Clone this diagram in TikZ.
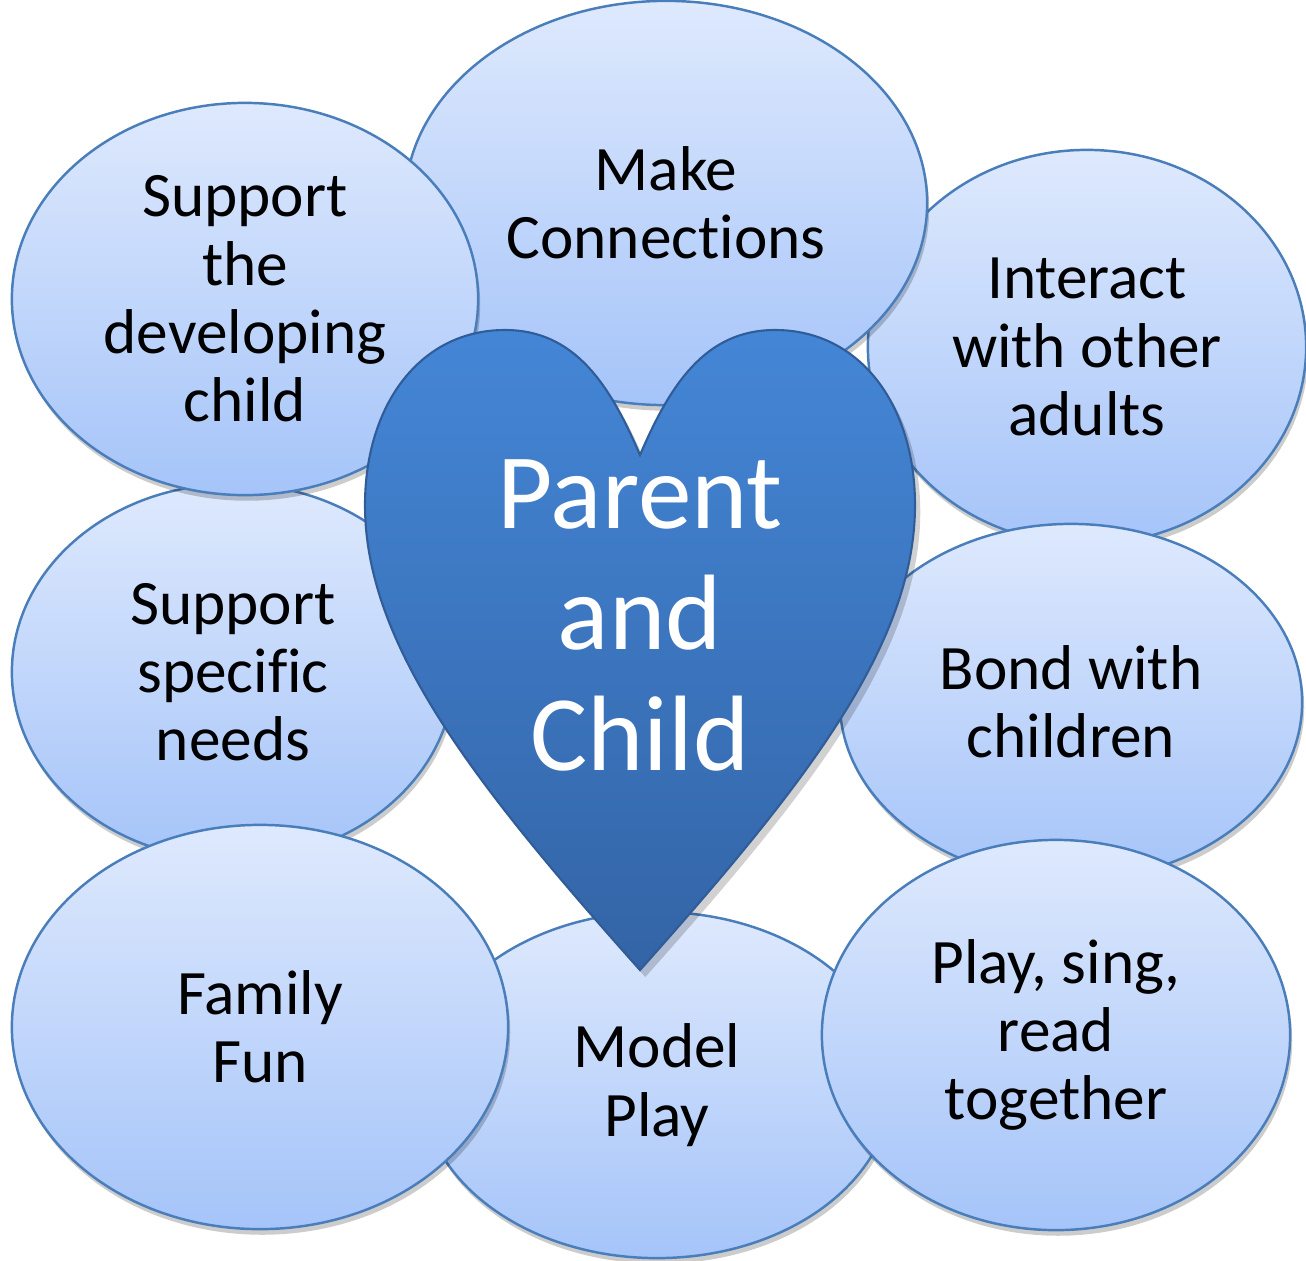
\documentclass[tikz,border=0pt]{standalone}
\usepackage{fontspec}
\setmainfont[Ligatures={NoCommon,NoContextual}]{Carlito}
\usepackage{xcolor}
\usetikzlibrary{shapes,shapes.geometric}
\usetikzlibrary{shadows}

\definecolor{bubbletop}{RGB}{222,233,253}
\definecolor{bubblebot}{RGB}{165,196,249}
\definecolor{bubbleedge}{RGB}{74,126,187}
\definecolor{hearttop}{RGB}{68,134,214}
\definecolor{heartbot}{RGB}{51,100,166}
\definecolor{heartedge}{RGB}{48,92,152}
\newcommand{\bubblefont}{\fontsize{18}{19.4}\selectfont}
\newcommand{\heartfont}{\fontsize{30.5}{34.4}\selectfont}

\begin{document}
\begin{tikzpicture}[x=0.01cm, y=-0.01cm,
	bubble/.style={ellipse, draw=bubbleedge, line width=0.7pt, top color=bubbletop, bottom color=bubblebot, align=center, inner sep=0pt, font=\bubblefont, drop shadow={shadow xshift=0.6pt, shadow yshift=-1.6pt, opacity=0.2, fill=black}}]
		\useasboundingbox (0,0) rectangle (1306,1260);
		\fill[white] (0,0) rectangle (1306,1260);
		
		\node[bubble, minimum width=4.38cm, minimum height=3.94cm] (adults) at (1087,347) {Interact\\with other\\adults};
		\node[bubble, minimum width=5.22cm, minimum height=4.04cm] (connect) at (666,203) {Make\\Connections};
		\node[bubble, minimum width=4.42cm, minimum height=3.76cm] (needs) at (233,672) {Support\\specific\\needs};
		\node[bubble, minimum width=4.66cm, minimum height=3.92cm] (develop) at (245,299) {Support\\the\\developing\\child};
		\node[bubble, minimum width=4.62cm, minimum height=3.56cm] (bond) at (1071,702) {Bond with\\children};
		\node[bubble, minimum width=4.70cm, minimum height=3.46cm] (model) at (657,1085) {Model\\Play};
		\node[bubble, minimum width=4.96cm, minimum height=4.04cm] (fun) at (260,1027) {Family\\Fun};
		\node[bubble, minimum width=4.68cm, minimum height=3.90cm] (sing) at (1056,1035) {Play, sing,\\read\\together};
		
		% heart
		\fill[black, opacity=0.18, xshift=1.5pt, yshift=-2pt] (640,455) .. controls (610,385) and (575,330) .. (505,330) .. controls (420,330) and (365,405) .. (365,505) .. controls (365,645) and (475,785) .. (640,970) .. controls (805,785) and (915,645) .. (915,505) .. controls (915,405) and (860,330) .. (775,330) .. controls (705,330) and (670,385) .. (640,455) -- cycle;
		\draw[heartedge, line width=0.6pt, top color=hearttop, bottom color=heartbot] (640,455) .. controls (610,385) and (575,330) .. (505,330) .. controls (420,330) and (365,405) .. (365,505) .. controls (365,645) and (475,785) .. (640,970) .. controls (805,785) and (915,645) .. (915,505) .. controls (915,405) and (860,330) .. (775,330) .. controls (705,330) and (670,385) .. (640,455) -- cycle;
		\node[white, align=center, font=\heartfont, inner sep=0pt] (pc) at (640,615) {Parent\\and\\Child};
	\end{tikzpicture}
\end{document}
